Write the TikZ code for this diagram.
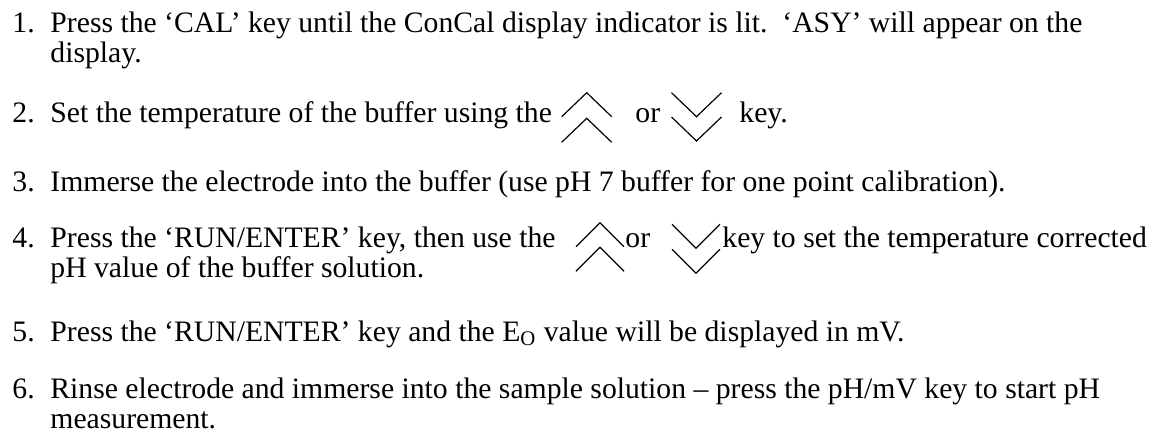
\documentclass[tikz,border=0pt]{standalone}
\usepackage{fontspec}
\setmainfont{Liberation Serif}
\begin{document}
\begin{tikzpicture}[x=0.4615pt,y=-0.4615pt]
\tikzset{
  txt/.style={anchor=base west,inner sep=0pt,font=\fontsize{13.7}{16}\selectfont},
  chev/.style={line width=0.55pt,line cap=butt,line join=miter}
}
\newcommand\upchev[3]{\draw[chev] (#1-#3,#2+24) -- (#1,#2) -- (#1+#3,#2+24);}
\newcommand\downchev[3]{\draw[chev] (#1-#3,#2-24) -- (#1,#2) -- (#1+#3,#2-24);}
\useasboundingbox (0,0) rectangle (1149,436);
% item 1
\node[txt] (n1) at (12,33) {1.};
\node[txt] (t1a) at (50,33) {Press the ‘CAL’ key until the ConCal display indicator is lit.\ \ ‘ASY’ will appear on the};
\node[txt] (t1b) at (50,63) {display.};
% item 2
\node[txt] (n2) at (12,123) {2.};
\node[txt] (t2a) at (50,123) {Set the temperature of the buffer using the};
\upchev{586.7}{92.7}{25}
\upchev{586.7}{118.3}{25}
\node[txt] (t2or) at (635,123) {or};
\downchev{696.5}{116.7}{25}
\downchev{696.5}{141}{25}
\node[txt] (t2key) at (739,123) {key.};
% item 3
\node[txt] (n3) at (12,192) {3.};
\node[txt] (t3) at (50,192) {Immerse the electrode into the buffer (use pH 7 buffer for one point calibration).};
% item 4
\node[txt] (n4) at (12,248) {4.};
\node[txt] (t4a) at (50,248) {Press the ‘RUN/ENTER’ key, then use the};
\upchev{600}{222.7}{24}
\upchev{600}{247.3}{24}
\node[txt] (t4or) at (625,248) {or};
\downchev{696}{248.3}{24}
\downchev{696}{273.3}{24}
\node[txt] (t4b) at (722,248) {key to set the temperature corrected};
\node[txt] (t4c) at (50,278) {pH value of the buffer solution.};
% item 5
\node[txt] (n5) at (12,341) {5.};
\node[txt] (t5) at (50,341) {Press the ‘RUN/ENTER’ key and the E\textsubscript{O} value will be displayed in mV.};
% item 6
\node[txt] (n6) at (12,398) {6.};
\node[txt] (t6a) at (50,398) {Rinse electrode and immerse into the sample solution – press the pH/mV key to start pH};
\node[txt] (t6b) at (50,428) {measurement.};
\end{tikzpicture}
\end{document}
